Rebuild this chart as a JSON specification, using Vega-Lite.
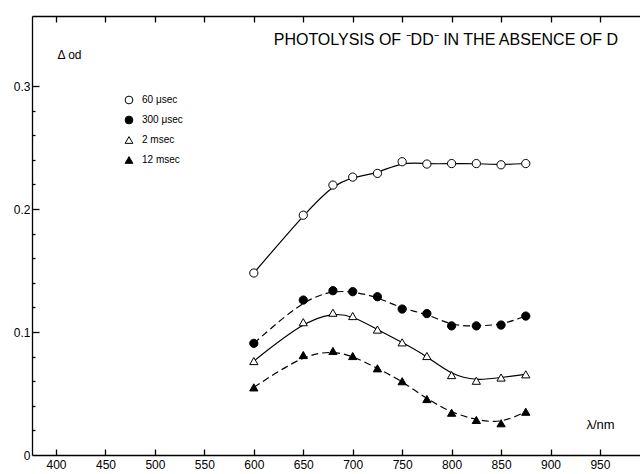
{
  "$schema": "https://vega.github.io/schema/vega-lite/v6.json",
  "width": 608,
  "height": 439,
  "autosize": "none",
  "padding": {"left": 32, "top": 16, "right": 0, "bottom": 19},
  "background": "white",
  "config": {
    "view": {"stroke": null},
    "font": "Liberation Sans",
    "axis": {"domainColor": "black", "tickColor": "black", "labelColor": "black", "titleColor": "black", "grid": false, "labelFont": "Liberation Sans", "titleFont": "Liberation Sans", "titleFontWeight": "normal", "labelOverlap": false, "tickWidth": 1.3, "domainWidth": 1.3},
    "legend": {"orient": "none", "legendX": 92, "legendY": 79, "title": null, "labelFontSize": 10, "labelFont": "Liberation Sans", "labelColor": "black", "symbolSize": 60, "rowPadding": 8, "padding": 0, "labelOffset": 8, "symbolStrokeWidth": 1}
  },
  "title": {
    "text": "PHOTOLYSIS OF ⁻DD⁻ IN THE ABSENCE OF D",
    "anchor": "end",
    "frame": "group",
    "dx": -22,
    "dy": 37,
    "fontSize": 16,
    "fontWeight": "normal",
    "font": "Liberation Sans",
    "color": "black"
  },
  "datasets": {
    "od": [
      {"series": "60 μsec", "wl": 600, "od": 0.148},
      {"series": "60 μsec", "wl": 650, "od": 0.195},
      {"series": "60 μsec", "wl": 680, "od": 0.2195},
      {"series": "60 μsec", "wl": 700, "od": 0.226},
      {"series": "60 μsec", "wl": 725, "od": 0.229},
      {"series": "60 μsec", "wl": 750, "od": 0.2385},
      {"series": "60 μsec", "wl": 775, "od": 0.2366},
      {"series": "60 μsec", "wl": 800, "od": 0.237},
      {"series": "60 μsec", "wl": 825, "od": 0.237},
      {"series": "60 μsec", "wl": 850, "od": 0.236},
      {"series": "60 μsec", "wl": 875, "od": 0.237},
      {"series": "300 μsec", "wl": 600, "od": 0.0908},
      {"series": "300 μsec", "wl": 650, "od": 0.126},
      {"series": "300 μsec", "wl": 680, "od": 0.1336},
      {"series": "300 μsec", "wl": 700, "od": 0.1328},
      {"series": "300 μsec", "wl": 725, "od": 0.1287},
      {"series": "300 μsec", "wl": 750, "od": 0.1187},
      {"series": "300 μsec", "wl": 775, "od": 0.115},
      {"series": "300 μsec", "wl": 800, "od": 0.105},
      {"series": "300 μsec", "wl": 825, "od": 0.105},
      {"series": "300 μsec", "wl": 850, "od": 0.1057},
      {"series": "300 μsec", "wl": 875, "od": 0.113},
      {"series": "2 msec", "wl": 600, "od": 0.0764},
      {"series": "2 msec", "wl": 650, "od": 0.108},
      {"series": "2 msec", "wl": 680, "od": 0.1157},
      {"series": "2 msec", "wl": 700, "od": 0.113},
      {"series": "2 msec", "wl": 725, "od": 0.102},
      {"series": "2 msec", "wl": 750, "od": 0.0916},
      {"series": "2 msec", "wl": 775, "od": 0.0805},
      {"series": "2 msec", "wl": 800, "od": 0.065},
      {"series": "2 msec", "wl": 825, "od": 0.0604},
      {"series": "2 msec", "wl": 850, "od": 0.063},
      {"series": "2 msec", "wl": 875, "od": 0.0656},
      {"series": "12 msec", "wl": 600, "od": 0.055},
      {"series": "12 msec", "wl": 650, "od": 0.0813},
      {"series": "12 msec", "wl": 680, "od": 0.0846},
      {"series": "12 msec", "wl": 700, "od": 0.0805},
      {"series": "12 msec", "wl": 725, "od": 0.0705},
      {"series": "12 msec", "wl": 750, "od": 0.060},
      {"series": "12 msec", "wl": 775, "od": 0.0455},
      {"series": "12 msec", "wl": 800, "od": 0.0344},
      {"series": "12 msec", "wl": 825, "od": 0.0285},
      {"series": "12 msec", "wl": 850, "od": 0.0258},
      {"series": "12 msec", "wl": 875, "od": 0.0352}
    ]
  },
  "data": {"name": "od"},
  "resolve": {"axis": {"x": "independent", "y": "independent"}},
  "layer": [
    {
      "transform": [{"filter": "datum.series === '60 μsec'"}],
      "mark": {"type": "line", "interpolate": "basis", "stroke": "black", "strokeWidth": 1.2},
      "encoding": {
        "x": {
          "field": "wl", "type": "quantitative",
          "scale": {"domain": [375.7, 990.5], "nice": false, "zero": false},
          "axis": {
            "orient": "bottom",
            "values": [400, 450, 500, 550, 600, 650, 700, 750, 800, 850, 900, 950],
            "ticks": false,
            "labelPadding": 4,
            "labelFontSize": 12,
            "title": "λ/nm",
            "titleFontSize": 13,
            "titleX": 568,
            "titleY": -31,
            "titleAlign": "center",
            "titleBaseline": "middle"
          }
        },
        "y": {
          "field": "od", "type": "quantitative",
          "scale": {"domain": [0, 0.357], "nice": false},
          "axis": {
            "orient": "left",
            "values": [0, 0.1, 0.2, 0.3],
            "ticks": false,
            "labelExpr": "datum.value === 0 ? '0' : format(datum.value, '.1f')",
            "labelPadding": 2,
            "labelFontSize": 12,
            "title": "Δ od",
            "titleAngle": 0,
            "titleFontSize": 12,
            "titleX": 25,
            "titleY": 38,
            "titleAlign": "left",
            "titleBaseline": "middle"
          }
        }
      }
    },
    {
      "transform": [{"filter": "datum.series === '2 msec'"}],
      "mark": {"type": "line", "interpolate": "basis", "stroke": "black", "strokeWidth": 1.2},
      "encoding": {
        "x": {
          "field": "wl", "type": "quantitative",
          "axis": {
            "orient": "bottom", "offset": -6, "tickSize": 6, "domain": false, "labels": false, "title": null,
            "values": [400, 450, 500, 550, 600, 650, 700, 750, 800, 850, 900, 950]
          }
        },
        "y": {
          "field": "od", "type": "quantitative",
          "axis": {
            "orient": "left", "offset": -7, "tickSize": 7, "domain": false, "labels": false, "title": null,
            "values": [0.1, 0.2, 0.3]
          }
        }
      }
    },
    {
      "transform": [{"filter": "datum.series === '300 μsec'"}],
      "mark": {"type": "line", "interpolate": "basis", "stroke": "black", "strokeWidth": 1.2, "strokeDash": [7, 4]},
      "encoding": {
        "x": {
          "field": "wl", "type": "quantitative",
          "axis": {"orient": "top", "ticks": false, "labels": false, "title": null, "values": [400]}
        },
        "y": {
          "field": "od", "type": "quantitative",
          "axis": {
            "orient": "left", "offset": -3, "tickSize": 3, "domain": false, "labels": false, "title": null,
            "values": [0.02, 0.04, 0.06, 0.08, 0.12, 0.14, 0.16, 0.18, 0.22, 0.24, 0.26, 0.28]
          }
        }
      }
    },
    {
      "transform": [{"filter": "datum.series === '12 msec'"}],
      "mark": {"type": "line", "interpolate": "basis", "stroke": "black", "strokeWidth": 1.2, "strokeDash": [7, 4]},
      "encoding": {
        "x": {
          "field": "wl", "type": "quantitative",
          "axis": {
            "orient": "top", "offset": -6, "tickSize": 6, "domain": false, "labels": false, "title": null,
            "values": [400, 450, 500, 550, 600, 650, 700, 750, 800, 850, 900, 950]
          }
        },
        "y": {"field": "od", "type": "quantitative", "axis": null}
      }
    },
    {
      "mark": {"type": "point", "filled": true, "strokeWidth": 1, "opacity": 1},
      "encoding": {
        "x": {"field": "wl", "type": "quantitative", "axis": null},
        "y": {"field": "od", "type": "quantitative", "axis": null},
        "shape": {
          "field": "series", "type": "nominal",
          "scale": {"domain": ["60 μsec", "300 μsec", "2 msec", "12 msec"], "range": ["circle", "circle", "triangle-up", "triangle-up"]}
        },
        "fill": {
          "field": "series", "type": "nominal",
          "scale": {"domain": ["60 μsec", "300 μsec", "2 msec", "12 msec"], "range": ["white", "black", "white", "black"]}
        },
        "stroke": {
          "field": "series", "type": "nominal",
          "scale": {"domain": ["60 μsec", "300 μsec", "2 msec", "12 msec"], "range": ["black", "black", "black", "black"]}
        },
        "size": {"value": 68}
      }
    }
  ]
}
